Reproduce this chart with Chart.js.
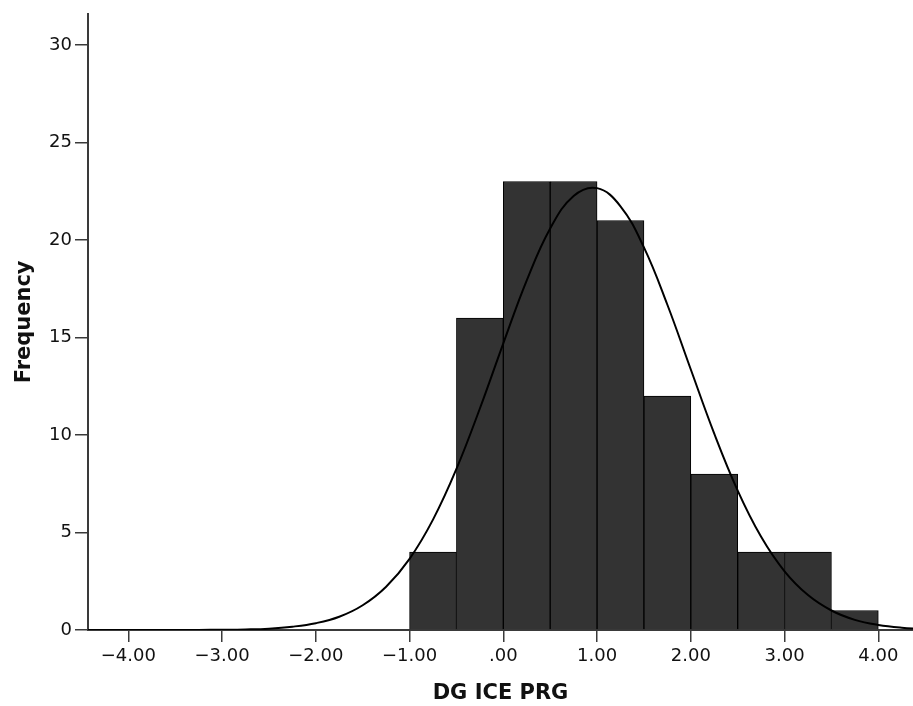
<!DOCTYPE html>
<html>
<head>
<meta charset="utf-8">
<title>DG ICE PRG histogram</title>
<script src="https://cdn.jsdelivr.net/npm/chart.js@4"></script>
<style>
  body { margin: 0; background: #fff; }
  #histChart { display: block; }
</style>
</head>
<body>
<canvas id="histChart" width="913" height="706"></canvas>
<script>
// bin centres (width 0.5) and counts
const binCenters = [-0.75, -0.25, 0.25, 0.75, 1.25, 1.75, 2.25, 2.75, 3.25, 3.75];
const frequencies = [4, 16, 23, 23, 21, 12, 8, 4, 4, 1];

// normal curve, sampled every 0.25
const curveX = [-4.5, -4.25, -4.0, -3.75, -3.5, -3.25, -3.0, -2.75, -2.5, -2.25,
  -2.0, -1.75, -1.5, -1.25, -1.0, -0.75, -0.5, -0.25, 0.0, 0.25,
  0.5, 0.75, 1.0, 1.25, 1.5, 1.75, 2.0, 2.25, 2.5, 2.75,
  3.0, 3.25, 3.5, 3.75, 4.0, 4.25, 4.5];
const curveY = [0, 0, 0, 0.001, 0.002, 0.005, 0.013, 0.03, 0.07, 0.17,
  0.35, 0.68, 1.27, 2.22, 3.65, 5.66, 8.26, 11.36, 14.7, 17.93,
  20.59, 22.26, 22.66, 21.73, 19.62, 16.68, 13.36, 10.07, 7.15, 4.78,
  3.01, 1.79, 1.0, 0.52, 0.26, 0.12, 0.05];

const xTicks = [-4, -3, -2, -1, 0, 1, 2, 3, 4];
const yTicks = [0, 5, 10, 15, 20, 25, 30];

const axisColor = "#3a3a3a";
const textColor = "#111";

// SPSS style labels: ".00", "1.00", "−2.00"
function formatX(v) {
  let s = Math.abs(v).toFixed(2);
  if (s.startsWith("0")) s = s.slice(1);
  return (v < 0 ? "\u2212" : "") + s;
}

const barData = binCenters.map((c, i) => ({ x: c, y: frequencies[i] }));
const curveData = curveX.map((x, i) => ({ x: x, y: curveY[i] }));

const ctx = document.getElementById("histChart").getContext("2d");
const chart = new Chart(ctx, {
  type: "bar",
  data: {
    datasets: [
      {
        type: "line",
        data: curveData,
        borderColor: "#000",
        borderWidth: 2,
        pointRadius: 0,
        tension: 0.4,
        fill: false,
        order: 1,
      },
      {
        data: barData,
        backgroundColor: "#333333",
        borderColor: "#000",
        borderWidth: 1,
        barPercentage: 1,
        categoryPercentage: 1,
        order: 2,
      },
    ],
  },
  options: {
    responsive: false,
    animation: false,
    layout: { padding: { top: 12, right: 0, left: 0, bottom: 0 } },
    plugins: {
      legend: { display: false },
      tooltip: { enabled: false },
    },
    scales: {
      x: {
        type: "linear",
        offset: false,
        min: -4.43,
        max: 4.37,
        afterBuildTicks: (axis) => {
          axis.ticks = xTicks.map((v) => ({ value: v }));
        },
        afterFit: (axis) => {
          axis.height = 76;
        },
        grid: {
          display: true,
          offset: false,
          drawOnChartArea: false,
          drawTicks: true,
          tickLength: 12,
          color: axisColor,
          lineWidth: 1.5,
        },
        border: { display: true, color: axisColor, width: 2 },
        ticks: {
          padding: 4,
          color: textColor,
          font: { family: "DejaVu Sans", size: 18 },
          callback: (v) => formatX(v),
          maxRotation: 0,
        },
        title: {
          display: true,
          text: "DG ICE PRG",
          color: textColor,
          font: { family: "DejaVu Sans", size: 21, weight: "bold" },
          padding: { top: 0, bottom: 0 },
        },
      },
      y: {
        min: 0,
        max: 31.6,
        afterBuildTicks: (axis) => {
          axis.ticks = yTicks.map((v) => ({ value: v }));
        },
        afterFit: (axis) => {
          axis.width = 88;
        },
        grid: {
          display: true,
          drawOnChartArea: false,
          drawTicks: true,
          tickLength: 13,
          color: axisColor,
          lineWidth: 1.5,
        },
        border: { display: true, color: axisColor, width: 2 },
        ticks: {
          padding: 3,
          color: textColor,
          font: { family: "DejaVu Sans", size: 18 },
        },
        title: {
          display: true,
          text: "Frequency",
          color: textColor,
          font: { family: "DejaVu Sans", size: 21, weight: "bold" },
          padding: { top: 12, bottom: 0 },
        },
      },
    },
  },
});
</script>
</body>
</html>
